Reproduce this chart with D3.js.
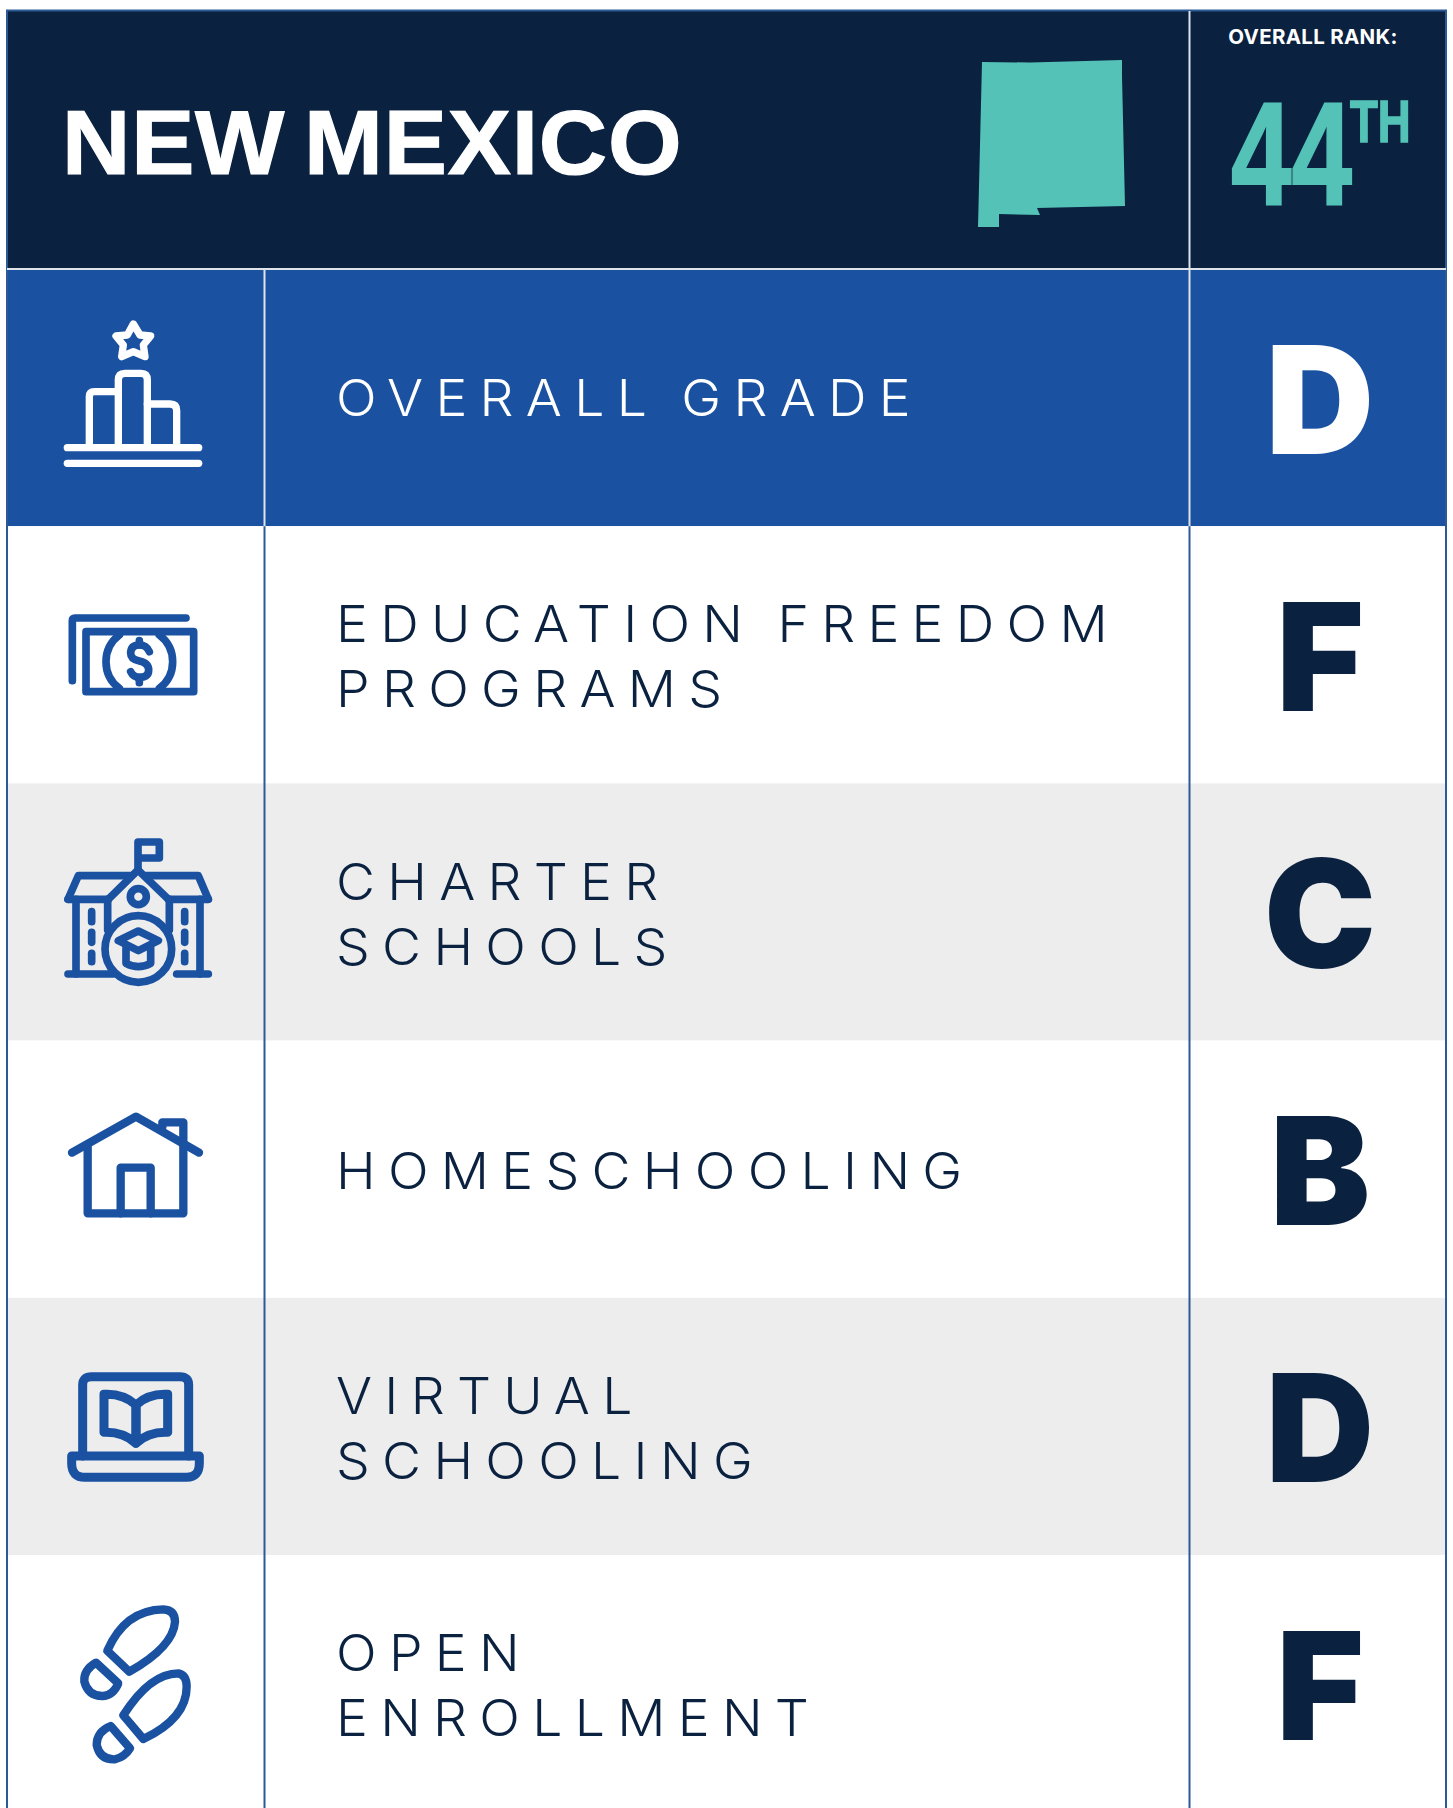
<!DOCTYPE html>
<html>
<head>
<meta charset="utf-8">
<script src="https://cdnjs.cloudflare.com/ajax/libs/d3/7.8.5/d3.min.js"></script>
<style>
  html, body { margin: 0; padding: 0; background: #fff; }
  svg { display: block; }
</style>
</head>
<body>
<div id="chart"></div>
<script>
  /**
   * Data
   */

  const stateName = 'NEW MEXICO';
  const rankLabel = 'OVERALL RANK:';
  const rankNumber = '44';
  const rankSuffix = 'TH';

  const categories = [
    ['OVERALL GRADE'],
    ['EDUCATION FREEDOM', 'PROGRAMS'],
    ['CHARTER', 'SCHOOLS'],
    ['HOMESCHOOLING'],
    ['VIRTUAL', 'SCHOOLING'],
    ['OPEN', 'ENROLLMENT'],
  ];
  const grades = ['D', 'F', 'C', 'B', 'D', 'F'];
  const iconNames = ['podium', 'money', 'school', 'house', 'laptop', 'steps'];


  /**
   * Setup
   */

  const width = 1453;
  const height = 1808;

  const colors = {
    navy: '#0a2140',
    blue: '#1a52a1',
    teal: '#54c2b6',
    gray: '#ededed',
    line: '#2b5a96',
  };

  const col = { left: 7, icon: 264.5, grade: 1189.5, right: 1446 };
  const headerTop = 11;
  const headerBottom = 269;

  const rowScale = d3.scaleBand()
    .domain(d3.range(categories.length))
    .range([headerBottom, headerBottom + 257.2 * categories.length]);

  const rowFill = i => (i === 0 ? colors.blue : (i % 2 === 0 ? colors.gray : '#fff'));

  const svg = d3.select('#chart')
    .append('svg')
    .attr('width', width)
    .attr('height', height);


  /**
   * Header
   */

  svg.append('rect')
    .attr('x', col.left)
    .attr('y', headerTop)
    .attr('width', col.right - col.left)
    .attr('height', headerBottom - headerTop)
    .attr('fill', colors.navy);

  svg.append('text')
    .attr('transform', 'translate(62,174) scale(1.04,1)')
    .attr('font-family', 'Liberation Sans')
    .attr('font-weight', 700)
    .attr('font-size', 91)
    .attr('letter-spacing', 0.8)
    .attr('word-spacing', -8)
    .attr('fill', '#fff')
    .attr('stroke', '#fff')
    .attr('stroke-width', 1.2)
    .text(stateName);

  svg.append('path')
    .attr('d', 'M982,62 L1030,62.5 L1122,60 L1122,76 L1125,206 L1037,208 L1040,215 L999,214 L999,227 L978,227 Z')
    .attr('fill', colors.teal);

  svg.append('text')
    .attr('x', 1313)
    .attr('y', 43.5)
    .attr('text-anchor', 'middle')
    .attr('font-family', 'Inter')
    .attr('font-weight', 700)
    .attr('font-size', 20.5)
    .attr('letter-spacing', 0.3)
    .attr('fill', '#fff')
    .text(rankLabel);

  svg.append('text')
    .attr('transform', 'translate(1231,205) scale(0.74,1)')
    .attr('font-family', 'Liberation Sans')
    .attr('font-weight', 700)
    .attr('font-size', 147)
    .attr('fill', colors.teal)
    .attr('stroke', colors.teal)
    .attr('stroke-width', 2)
    .text(rankNumber);

  svg.append('text')
    .attr('transform', 'translate(1350,142) scale(0.76,1)')
    .attr('font-family', 'Liberation Sans')
    .attr('font-weight', 700)
    .attr('font-size', 60)
    .attr('fill', colors.teal)
    .attr('stroke', colors.teal)
    .attr('stroke-width', 1.5)
    .text(rankSuffix);


  /**
   * Rows
   */

  const rows = svg.selectAll('g.row')
    .data(categories)
    .enter()
    .append('g')
    .attr('class', 'row');

  rows.append('rect')
    .attr('x', col.left)
    .attr('y', (d, i) => rowScale(i))
    .attr('width', col.right - col.left)
    .attr('height', rowScale.bandwidth())
    .attr('fill', (d, i) => rowFill(i));

  rows.each(function(lines, i) {
    const mid = rowScale(i) + rowScale.bandwidth() / 2 - (i === 0 ? 2 : 0);
    d3.select(this).selectAll('text.label')
      .data(lines)
      .enter()
      .append('text')
      .attr('class', 'label')
      .attr('transform', (d, j) => {
        const y = mid + 20 + (j - (lines.length - 1) / 2) * 65;
        return `translate(336,${y}) scale(1.05,1)`;
      })
      .attr('font-family', 'Inter')
      .attr('font-weight', 340)
      .attr('font-size', 51)
      .attr('letter-spacing', 11.7)
      .attr('word-spacing', -5)
      .attr('fill', i === 0 ? '#fff' : colors.navy)
      .text(d => d);
  });

  rows.append('text')
    .attr('x', 1320)
    .attr('y', (d, i) => rowScale(i) + rowScale.bandwidth() / 2 + 56)
    .attr('text-anchor', 'middle')
    .attr('font-family', 'Inter')
    .attr('font-weight', 900)
    .attr('font-size', 150)
    .attr('fill', (d, i) => (i === 0 ? '#fff' : colors.navy))
    .text((d, i) => grades[i]);


  /**
   * Rules
   */

  function rule(x1, y1, x2, y2, stroke, w = 2) {
    svg.append('line')
      .attr('x1', x1).attr('y1', y1)
      .attr('x2', x2).attr('y2', y2)
      .attr('stroke', stroke)
      .attr('stroke-width', w);
  }

  const firstRowEnd = rowScale(1);

  rule(col.left - 1, headerTop - 0.5, col.right + 1, headerTop - 0.5, colors.line);
  rule(col.left, headerTop, col.left, height, colors.line);
  rule(col.right, headerTop, col.right, height, colors.line);
  rule(col.left, headerBottom, col.right, headerBottom, '#dfe4ea');
  rule(col.grade, headerTop, col.grade, firstRowEnd, '#dfe4ea');
  rule(col.icon, headerBottom, col.icon, firstRowEnd, '#dfe4ea');
  rule(col.grade, firstRowEnd, col.grade, height, colors.line);
  rule(col.icon, firstRowEnd, col.icon, height, colors.line);


  /**
   * Icons, drawn in 3x units so they read straight off a crop of the picture
   */

  const icons = {
    podium: {
      x: 40, y: 300, w: 22,
      shapes: [
        'M280,72 L300,105 L332,108 L310,135 L315,170 L280,155 L245,170 L250,135 L228,108 L262,105 Z',
        'M148,435 V290 Q148,275 163,275 H235',
        'M235,435 V240 Q235,220 255,220 H303 Q322,220 322,240 V435',
        'M322,312 H390 Q410,312 410,332 V435',
        'M82,443 H476',
        'M82,490 H476',
      ],
    },
    money: {
      x: 40, y: 590, w: 23,
      shapes: [
        'M97,272 V92 Q97,84 105,84 H438',
        'M138,125 H461 V305 H138 Z',
        'M238,135 A100,100 0 0 0 238,295',
        'M358,135 A100,100 0 0 1 358,295',
        'M328,185 Q320,165 298,165 Q272,165 272,190 Q272,208 298,213 Q326,219 326,240 Q326,262 298,262 Q280,262 272,245',
        'M298,152 V165',
        'M298,262 V278',
      ],
    },
    school: {
      x: 40, y: 820, w: 23,
      shapes: [
        'M294,150 V66 H358 V114 H294',
        'M205,238 L294,150 L385,238',
        'M84,238 L115,167 H270',
        'M318,167 H475 L505,238',
        'M84,238 H205',
        'M385,238 H505',
        'M108,238 V462',
        'M480,238 V462',
        'M203,238 V330',
        'M388,238 V330',
        'M84,462 H220',
        'M410,462 H505',
        'M155,275 V305', 'M155,337 V367', 'M155,400 V425',
        'M434,275 V305', 'M434,337 V367', 'M434,400 V425',
        'M319,230 A24,24 0 1 1 271,230 A24,24 0 1 1 319,230 Z',
        'M395,387 A100,100 0 1 1 195,387 A100,100 0 1 1 395,387 Z',
        'M295,333 L355,362 L295,392 L235,362 Z',
        'M258,385 V430 Q295,450 332,430 V385',
      ],
    },
    house: {
      x: 40, y: 1090, w: 25,
      shapes: [
        'M96,188 L288,80 L477,188',
        'M143,165 V370 H430 V97 H367 V112',
        'M242,370 V233 H332 V370',
      ],
    },
    laptop: {
      x: 40, y: 1350, w: 27,
      shapes: [
        'M128,318 V105 Q128,80 155,80 H420 Q446,80 446,105 V318',
        'M95,318 H478 V340 Q478,382 440,382 H135 Q95,382 95,340 Z',
        'M288,280 Q250,245 192,247 V133 Q250,130 288,165 Z',
        'M288,280 Q325,245 383,247 V133 Q325,130 288,165 Z',
      ],
    },
    steps: {
      x: 50, y: 1590, w: 25,
      shapes: [
        'M172,182 Q225,60 340,58 Q375,60 375,95 Q370,170 238,245 Z',
        'M138,218 Q100,240 103,275 Q115,320 160,318 Q190,315 205,280 Z',
        'M220,376 Q300,250 385,250 Q410,255 410,290 Q410,385 280,447 Z',
        'M182,408 Q140,425 140,465 Q150,510 195,508 Q225,500 240,475 Z',
      ],
    },
  };

  iconNames.forEach((name, i) => {
    const icon = icons[name];
    svg.append('g')
      .attr('transform', `translate(${icon.x},${icon.y}) scale(${1 / 3})`)
      .selectAll('path')
      .data(icon.shapes)
      .enter()
      .append('path')
      .attr('d', d => d)
      .attr('fill', 'none')
      .attr('stroke', i === 0 ? '#fff' : colors.blue)
      .attr('stroke-width', icon.w)
      .attr('stroke-linecap', 'round')
      .attr('stroke-linejoin', 'round');
  });
</script>
</body>
</html>
